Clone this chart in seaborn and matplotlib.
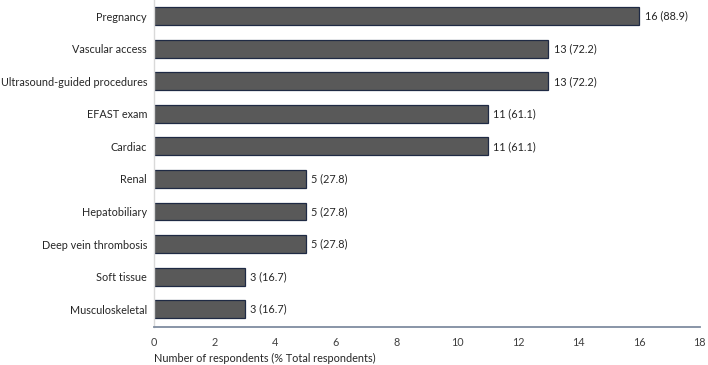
import numpy as np
import pandas as pd
import seaborn as sns
from matplotlib import pyplot as plt

categories = [
    "Pregnancy",
    "Vascular access",
    "Ultrasound-guided procedures",
    "EFAST exam",
    "Cardiac",
    "Renal",
    "Hepatobiliary",
    "Deep vein thrombosis",
    "Soft tissue",
    "Musculoskeletal",
]
counts = [16, 13, 13, 11, 11, 5, 5, 5, 3, 3]
percents = [88.9, 72.2, 72.2, 61.1, 61.1, 27.8, 27.8, 27.8, 16.7, 16.7]

sns.set_style("white")
plt.rcParams["font.family"] = ["Lato", "DejaVu Sans"]
FS = 7.8

df = pd.DataFrame({"Category": categories, "Count": counts, "Pct": percents})

fig = plt.figure(figsize=(7.08, 3.65), dpi=100)
ax = fig.add_axes([0.2175, 0.104, 0.771, 0.896])

sns.barplot(
    data=df,
    x="Count",
    y="Category",
    color="#595959",
    edgecolor="#1f2a44",
    linewidth=0.9,
    width=0.55,
    saturation=1,
    ax=ax,
)

for i, (c, p) in enumerate(zip(counts, percents)):
    ax.text(c + 0.18, i, f"{c} ({p})", va="center", ha="left", fontsize=FS, color="#262626")

ax.set_xlim(0, 18)
ax.set_xticks(np.arange(0, 19, 2))
ax.set_ylim(9.55, -0.5)
ax.set_ylabel("")
ax.set_xlabel("Number of respondents (% Total respondents)", fontsize=FS, color="#262626",
              loc="left", labelpad=4)

for s in ["top", "right"]:
    ax.spines[s].set_visible(False)
ax.spines["left"].set_color("#d9d9d9")
ax.spines["left"].set_linewidth(1.0)
ax.spines["bottom"].set_color("#7f8ca0")
ax.spines["bottom"].set_linewidth(1.3)

ax.tick_params(axis="x", direction="in", length=3, width=1, color="#7f8ca0",
               labelsize=FS, labelcolor="#404040", pad=7)
ax.tick_params(axis="y", length=0, labelsize=FS, labelcolor="#262626", pad=5)

plt.savefig("out.png", dpi=100)
